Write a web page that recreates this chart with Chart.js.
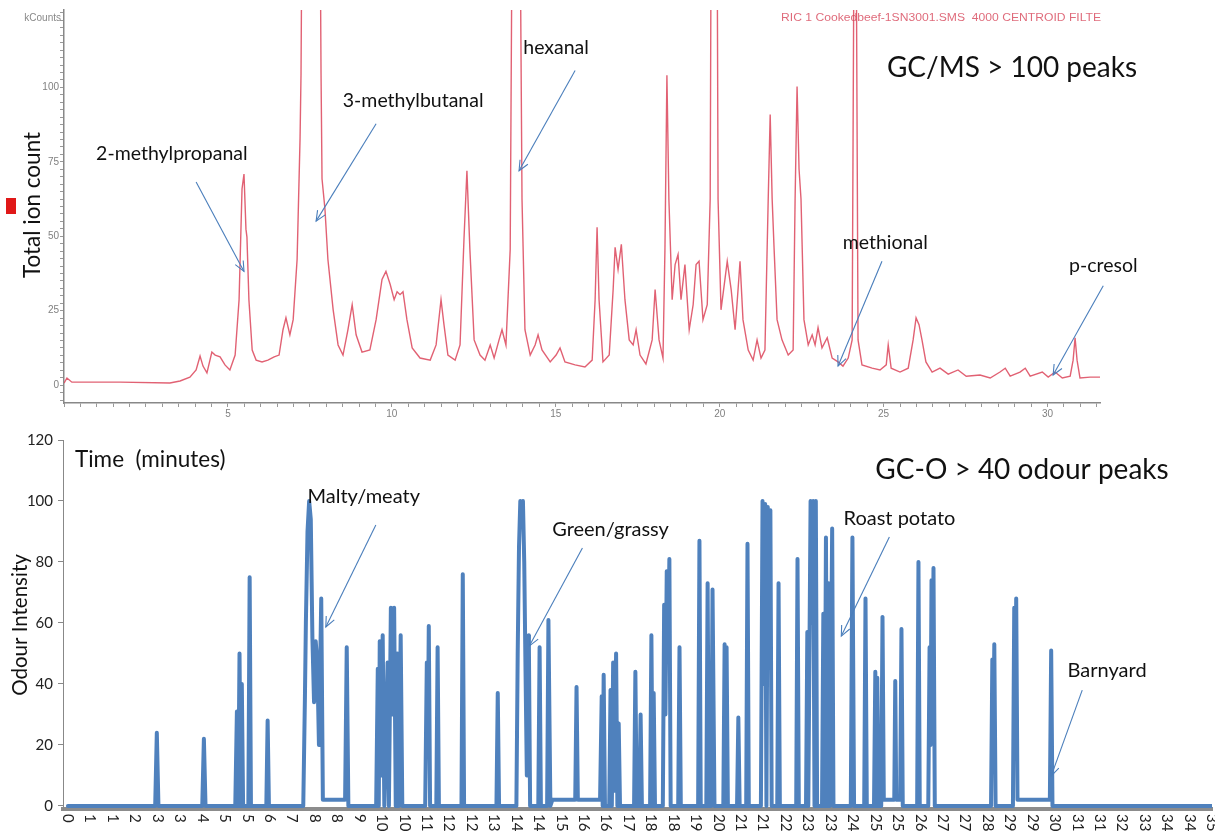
<!DOCTYPE html>
<html><head><meta charset="utf-8">
<script src="https://cdn.jsdelivr.net/npm/chart.js@4.4.1/dist/chart.umd.min.js"></script>
<style>
html,body{margin:0;padding:0;background:#fff;}
#wrap{position:relative;width:1215px;height:834px;overflow:hidden;}
canvas{position:absolute;left:0;top:0;}
</style></head><body>
<div id="wrap"><canvas id="cTop" width="1215" height="834"></canvas><canvas id="cBot" width="1215" height="834"></canvas></div>
<script>
// ---------- GC/MS chromatogram (minutes, kCounts) ----------
const gcmsTime = [
0, 0.09, 0.24, 1.71, 3.23, 3.54, 3.84, 4.03, 4.15, 4.24,
4.36, 4.51, 4.61, 4.76, 4.91, 5.06, 5.22, 5.34, 5.43, 5.49,
5.55, 5.58, 5.64, 5.74, 5.86, 6.04, 6.22, 6.41, 6.56, 6.68,
6.77, 6.89, 6.99, 7.11, 7.20, 7.23, 7.26, 7.81, 7.84, 7.87,
7.96, 8.05, 8.21, 8.36, 8.51, 8.66, 8.79, 8.91, 9.09, 9.33,
9.52, 9.70, 9.82, 9.95, 10.07, 10.16, 10.25, 10.34, 10.46, 10.62,
10.86, 11.17, 11.35, 11.50, 11.59, 11.71, 11.93, 12.08, 12.20, 12.29,
12.38, 12.51, 12.69, 12.84, 13.00, 13.12, 13.27, 13.36, 13.48, 13.61,
13.67, 13.91, 13.97, 14.06, 14.22, 14.37, 14.46, 14.58, 14.83, 15.01,
15.13, 15.28, 15.59, 15.89, 16.11, 16.20, 16.26, 16.32, 16.44, 16.63,
16.75, 16.81, 16.90, 17.00, 17.11, 17.24, 17.36, 17.45, 17.57, 17.75,
17.94, 18.03, 18.15, 18.27, 18.33, 18.39, 18.45, 18.55, 18.64, 18.73,
18.82, 18.94, 19.07, 19.19, 19.28, 19.37, 19.49, 19.62, 19.71, 19.74,
19.92, 19.95, 20.04, 20.16, 20.23, 20.35, 20.47, 20.56, 20.62, 20.71,
20.87, 21.02, 21.14, 21.26, 21.38, 21.48, 21.54, 21.60, 21.66, 21.75,
21.90, 22.09, 22.24, 22.30, 22.36, 22.42, 22.48, 22.57, 22.70, 22.82,
22.91, 23.00, 23.12, 23.28, 23.43, 23.61, 23.76, 23.92, 24.04, 24.10,
24.16, 24.22, 24.34, 24.65, 24.89, 25.08, 25.14, 25.23, 25.50, 25.75,
25.90, 25.99, 26.08, 26.17, 26.29, 26.48, 26.72, 26.97, 27.27, 27.52,
27.94, 28.25, 28.55, 28.71, 28.86, 29.16, 29.32, 29.47, 29.84, 30.02,
30.23, 30.45, 30.69, 30.78, 30.84, 30.90, 30.99, 31.30, 31.60
];
const gcmsCounts = [
0.7, 2.4, 1.0, 1.0, 0.7, 1.4, 2.7, 5.1, 9.8, 6.4,
4.1, 11.1, 10.1, 9.5, 6.8, 5.1, 10.1, 28.7, 65.9, 70.9,
52.4, 49.7, 28.7, 11.8, 8.4, 7.8, 8.4, 9.5, 10.1, 18.6,
22.6, 16.9, 22.0, 42.2, 82.8, 104.7, 160, 160, 104.7, 69.3,
59.1, 42.2, 25.3, 13.5, 10.1, 18.6, 27.0, 16.9, 11.1, 11.8,
22.0, 35.5, 38.2, 33.8, 28.7, 31.4, 30.4, 31.4, 22.0, 12.5,
9.1, 8.4, 13.5, 28.7, 20.3, 10.1, 8.4, 13.5, 49.0, 72.0,
45.6, 15.2, 10.1, 8.4, 13.5, 9.1, 15.2, 18.6, 13.5, 45.6,
160, 160, 62.5, 18.6, 10.1, 13.5, 16.9, 11.8, 7.8, 10.1,
12.5, 7.8, 6.8, 6.1, 8.4, 28.7, 53.0, 28.7, 7.8, 10.1,
32.1, 46.3, 38.9, 47.3, 28.7, 15.2, 13.5, 18.6, 10.1, 7.1,
15.2, 32.1, 15.2, 9.1, 45.6, 104.1, 62.5, 28.7, 40.5, 43.9,
28.7, 40.5, 18.6, 27.0, 40.5, 41.6, 22.0, 27.0, 62.5, 160,
160, 62.5, 25.3, 35.5, 41.6, 32.1, 18.6, 32.1, 41.6, 22.0,
11.8, 8.4, 15.2, 9.1, 11.8, 62.5, 90.9, 62.5, 45.6, 22.0,
15.2, 10.1, 11.8, 62.5, 100.3, 72.6, 62.5, 22.0, 13.5, 16.9,
13.5, 19.3, 12.5, 15.9, 9.1, 7.8, 6.4, 9.1, 15.2, 160,
160, 15.2, 6.8, 5.7, 5.1, 6.8, 13.5, 5.7, 4.4, 5.7,
15.2, 22.6, 20.3, 15.2, 7.8, 4.4, 5.7, 3.7, 5.1, 3.0,
3.4, 2.4, 4.4, 5.7, 3.0, 4.4, 5.7, 3.0, 4.4, 2.7,
4.4, 2.4, 3.0, 8.4, 15.9, 8.4, 2.4, 2.7, 2.7
];
const gcmsXTicks = [5, 10, 15, 20, 25, 30];
const gcmsYTicks = [0, 25, 50, 75, 100];
const gcmsNotes = ['2-methylpropanal', '3-methylbutanal', 'hexanal', 'methional', 'p-cresol'];

// ---------- GC-O odour trace (minutes, intensity) ----------
const odourTime = [
0,
2.67, 2.72, 2.77,
4.11, 4.16, 4.21,
5.12, 5.17, 5.21, 5.25, 5.29, 5.32, 5.36,
5.52, 5.56, 5.60,
6.07, 6.11, 6.15,
7.20, 7.25, 7.28, 7.33, 7.38, 7.43, 7.48, 7.53, 7.58, 7.63, 7.68, 7.75, 7.80, 8.48, 8.53, 8.58,
9.43, 9.48, 9.51, 9.54, 9.58, 9.63, 9.68, 9.78, 9.82, 9.88, 9.93, 9.98, 10.03, 10.08, 10.12, 10.18, 10.23,
10.93, 10.98, 11.01, 11.04, 11.08, 11.27, 11.31, 11.35,
12.04, 12.08, 12.12,
13.11, 13.15, 13.19,
13.72, 13.76, 13.80, 13.84, 13.88, 13.92, 13.96, 14.00, 14.04, 14.10, 14.14,
14.39, 14.43, 14.47,
14.66, 14.70, 14.76, 14.82, 15.52, 15.56, 15.60, 16.28, 16.33, 16.36, 16.39, 16.43,
16.56, 16.60, 16.64, 16.68, 16.73, 16.77, 16.81, 16.85, 16.89,
17.32, 17.36, 17.40, 17.48, 17.52, 17.56,
17.81, 17.85, 17.89, 17.92, 17.96,
18.20, 18.24, 18.28, 18.32, 18.36, 18.40, 18.44,
18.67, 18.71, 18.75,
19.28, 19.32, 19.36,
19.53, 19.57, 19.61, 19.68, 19.72, 19.78,
20.05, 20.09, 20.12, 20.15, 20.19,
20.47, 20.51, 20.55,
20.75, 20.79, 20.83,
21.20, 21.25, 21.29, 21.33, 21.37, 21.41, 21.45, 21.49, 21.53,
21.70, 21.74, 21.78,
22.28, 22.32, 22.36,
22.58, 22.62, 22.65, 22.72, 22.76, 22.80, 22.84, 22.88, 22.92,
23.07, 23.11, 23.15, 23.19, 23.23, 23.27, 23.31, 23.38, 23.42,
23.95, 24.00, 24.05,
24.36, 24.40, 24.44,
24.66, 24.70, 24.74, 24.76, 24.80,
24.88, 24.92, 24.96, 25.28, 25.31, 25.34, 25.46, 25.50, 25.54,
25.98, 26.02, 26.06,
26.32, 26.36, 26.39, 26.42, 26.45, 26.48, 26.52,
28.24, 28.28, 28.31, 28.34, 28.38,
28.91, 28.95, 28.98, 29.01, 29.05, 30.04, 30.08, 30.12,
35.0
];
const odourIntensity = [
0,
0, 24, 0,
0, 22, 0,
0, 31, 0, 50, 0, 40, 0,
0, 75, 0,
0, 28, 0,
0, 35, 60, 90, 100, 94, 55, 34, 54, 47, 20, 68, 2, 2, 52, 0,
0, 45, 0, 54, 10, 56, 0, 47, 0, 65, 30, 65, 0, 50, 0, 56, 0,
0, 47, 20, 59, 0, 0, 52, 0,
0, 76, 0,
0, 37, 0,
0, 50, 85, 100, 96, 100, 80, 44, 10, 56, 0,
0, 52, 0,
0, 61, 0, 2, 2, 39, 2, 2, 36, 0, 43, 0,
0, 38, 0, 47, 5, 50, 0, 27, 0,
0, 44, 0, 0, 30, 0,
0, 56, 0, 37, 0,
0, 66, 30, 77, 50, 81, 0,
0, 52, 0,
0, 87, 0,
0, 73, 0, 0, 71, 0,
0, 53, 0, 52, 0,
0, 29, 0,
0, 86, 0,
0, 100, 40, 99, 0, 98, 60, 97, 0,
0, 73, 0,
0, 81, 0,
0, 57, 0, 100, 60, 100, 0, 100, 0,
0, 63, 0, 88, 0, 73, 0, 91, 0,
0, 88, 0,
0, 68, 0,
0, 44, 0, 42, 0,
0, 62, 2, 2, 41, 2, 2, 58, 0,
0, 80, 0,
0, 52, 20, 74, 40, 78, 0,
0, 48, 20, 53, 0,
0, 65, 30, 68, 2, 2, 51, 0,
0
];
const odourYTicks = [0, 20, 40, 60, 80, 100, 120];
const odourXTickLabels = ['0','1','1','2','3','3','4','5','5','6','7','8','8','9','10','10','11','12','12','13','14','14','15','16','16','17','18','18','19','20','21','21','22','23','23','24','25','25','26','27','27','28','29','29','30','31','31','32','33','34','34','35'];
const odourNotes = ['Malty/meaty', 'Green/grassy', 'Roast potato', 'Barnyard'];

// ---------- annotation placement (data units) ----------
const gcmsNotePos = [
  {tx:3.29, ty:77.7, x0:4.03, y0:68.2, x1:5.49, y1:38.2},
  {tx:10.65, ty:95.6, x0:9.52, y0:87.8, x1:7.69, y1:55.1},
  {tx:15.01, ty:113.2, x0:15.59, y0:105.7, x1:13.88, y1:72.0},
  {tx:25.05, ty:48.0, x0:24.95, y0:41.6, x1:23.61, y1:6.4},
  {tx:31.70, ty:40.2, x0:31.70, y0:33.4, x1:30.17, y1:3.4}
];
const odourNotePos = [
  {tx:9.05, ty:101.3, x0:9.42, y0:92.1, x1:7.89, y1:58.7},
  {tx:16.6, ty:90.8, x0:15.74, y0:84.6, x1:14.12, y1:52.5},
  {tx:25.44, ty:94.4, x0:25.13, y0:88.2, x1:23.66, y1:55.7},
  {tx:31.79, ty:44.3, x0:31.03, y0:38.0, x1:30.08, y1:9.8}
];

const FONT = 'Lato, "Open Sans", "Liberation Sans", sans-serif';
Chart.defaults.font.family = FONT;
Chart.defaults.animation = false;

function drawArrow(ctx, x0, y0, x1, y1) {
  ctx.beginPath(); ctx.moveTo(x0, y0); ctx.lineTo(x1, y1); ctx.stroke();
  const a = Math.atan2(y1 - y0, x1 - x0), L = 11, s = 0.42;
  ctx.beginPath();
  ctx.moveTo(x1 - L * Math.cos(a - s), y1 - L * Math.sin(a - s));
  ctx.lineTo(x1, y1);
  ctx.lineTo(x1 - L * Math.cos(a + s), y1 - L * Math.sin(a + s));
  ctx.stroke();
}
function drawNotes(chart, names, pos, size) {
  const ctx = chart.ctx, xs = chart.scales.x, ys = chart.scales.y;
  ctx.save();
  ctx.strokeStyle = '#4a7ebb'; ctx.lineWidth = 1.1;
  ctx.fillStyle = '#111'; ctx.font = size + 'px ' + FONT;
  ctx.textAlign = 'center'; ctx.textBaseline = 'middle';
  names.forEach((n, i) => {
    const p = pos[i];
    ctx.fillText(n, xs.getPixelForValue(p.tx), ys.getPixelForValue(p.ty));
    drawArrow(ctx, xs.getPixelForValue(p.x0), ys.getPixelForValue(p.y0),
                   xs.getPixelForValue(p.x1), ys.getPixelForValue(p.y1));
  });
  ctx.restore();
}

// ---------- top chart ----------
const topDecor = {
  id: 'topDecor',
  afterDraw(chart) {
    const ctx = chart.ctx;
    ctx.save();
    ctx.fillStyle = '#888'; ctx.font = '10px "Liberation Sans", sans-serif';
    ctx.textAlign = 'right'; ctx.textBaseline = 'middle';
    ctx.fillText('kCounts', 61, 18);
    ctx.fillStyle = '#e01818'; ctx.fillRect(6, 198, 10, 16);
    // header
    ctx.fillStyle = 'rgba(215,70,90,0.8)'; ctx.font = '10px "Liberation Sans", sans-serif';
    ctx.textAlign = 'left';
    const t = 'RIC 1 Cookedbeef-1SN3001.SMS  4000 CENTROID FILTE';
    const w = ctx.measureText(t).width;
    ctx.save(); ctx.translate(781, 18); ctx.scale(320 / w, 1); ctx.fillText(t, 0, 0); ctx.restore();
    // y title
    ctx.fillStyle = '#111'; ctx.font = '22.5px ' + FONT; ctx.textAlign = 'center';
    ctx.save(); ctx.translate(33, 205); ctx.rotate(-Math.PI / 2); ctx.fillText('Total ion count', 0, 0); ctx.restore();
    ctx.font = '28px ' + FONT;
    ctx.fillText('GC/MS > 100 peaks', 1012, 68);
    ctx.restore();
    drawNotes(chart, gcmsNotes, gcmsNotePos, 19.5);
  }
};

new Chart(document.getElementById('cTop'), {
  type: 'line',
  data: { datasets: [{
    data: gcmsTime.map((t, i) => ({x: t, y: gcmsCounts[i]})),
    borderColor: 'rgba(222,80,100,0.9)', borderWidth: 1.4, pointRadius: 0, tension: 0, fill: false
  }]},
  options: {
    responsive: false,
    layout: { padding: {top: 10, right: 115, bottom: 411, left: 0} },
    plugins: { legend: {display: false}, tooltip: {enabled: false} },
    scales: {
      x: {
        type: 'linear', min: 0, max: 31.6,
        afterBuildTicks(s) { const a = []; for (let v = 0; v <= 31.5; v += 0.5) a.push({value: v}); s.ticks = a; },
        afterFit(s) { s.height = 20; },
        ticks: { autoSkip: false, maxRotation: 0, color: '#808080', font: {size: 10, family: '"Liberation Sans", sans-serif'}, padding: 1,
          callback: v => gcmsXTicks.includes(v) ? String(v) : '' },
        grid: { drawOnChartArea: false, tickLength: 4, color: '#999' },
        border: { color: '#888', width: 1.5 }
      },
      y: {
        type: 'linear', min: -6, max: 126,
        afterBuildTicks(s) { const a = []; for (let v = -5; v <= 125; v += 2.5) a.push({value: v}); s.ticks = a; },
        afterFit(s) { s.width = 64; },
        ticks: { autoSkip: false, color: '#808080', font: {size: 10, family: '"Liberation Sans", sans-serif'}, padding: 1,
          callback: v => gcmsYTicks.includes(v) ? String(v) : '' },
        grid: { drawOnChartArea: false, tickLength: 4, color: '#999' },
        border: { color: '#888', width: 1.5 }
      }
    }
  },
  plugins: [topDecor]
});

// ---------- bottom chart ----------
const xTickValue = i => i * 35 / (odourXTickLabels.length - 1);
const botDecor = {
  id: 'botDecor',
  afterDraw(chart) {
    const ctx = chart.ctx, xs = chart.scales.x;
    ctx.save();
    ctx.fillStyle = '#222'; ctx.font = '15px ' + FONT;
    ctx.textAlign = 'left'; ctx.textBaseline = 'middle';
    odourXTickLabels.forEach((lab, i) => {
      const px = xs.getPixelForValue(xTickValue(i));
      ctx.save(); ctx.translate(px, 814); ctx.rotate(Math.PI / 2); ctx.fillText(lab, 0, 0); ctx.restore();
    });
    ctx.fillStyle = '#111'; ctx.font = '20.5px ' + FONT; ctx.textAlign = 'center';
    ctx.save(); ctx.translate(20, 625); ctx.rotate(-Math.PI / 2); ctx.fillText('Odour Intensity', 0, 0); ctx.restore();
    ctx.textAlign = 'left'; ctx.font = '22.5px ' + FONT;
    ctx.fillText('Time  (minutes)', 75, 460);
    ctx.textAlign = 'center'; ctx.font = '28px ' + FONT;
    ctx.fillText('GC-O > 40 odour peaks', 1022, 470);
    ctx.restore();
    drawNotes(chart, odourNotes, odourNotePos, 20);
  }
};

new Chart(document.getElementById('cBot'), {
  type: 'line',
  data: { datasets: [{
    data: odourTime.map((t, i) => ({x: t, y: odourIntensity[i]})),
    borderColor: '#4f81bd', borderWidth: 4, pointRadius: 0, tension: 0, fill: false,
    borderJoinStyle: 'round', borderCapStyle: 'round'
  }]},
  options: {
    responsive: false,
    layout: { padding: {top: 440, right: 3, bottom: 0, left: 0} },
    plugins: { legend: {display: false}, tooltip: {enabled: false} },
    scales: {
      x: {
        type: 'linear', min: -0.15, max: 35,
        afterBuildTicks(s) { s.ticks = odourXTickLabels.map((l, i) => ({value: xTickValue(i)})); },
        afterFit(s) { s.height = 25; },
        ticks: { display: false },
        grid: { display: false },
        border: { color: '#8c8c8c', width: 4 }
      },
      y: {
        type: 'linear', min: -1, max: 120,
        afterBuildTicks(s) { s.ticks = odourYTicks.map(v => ({value: v})); },
        afterFit(s) { s.width = 63; },
        ticks: { color: '#222', font: {size: 15}, padding: 5 },
        grid: { drawOnChartArea: false, tickLength: 5, color: '#888' },
        border: { color: '#888', width: 1 }
      }
    }
  },
  plugins: [botDecor]
});
</script>
</body></html>
